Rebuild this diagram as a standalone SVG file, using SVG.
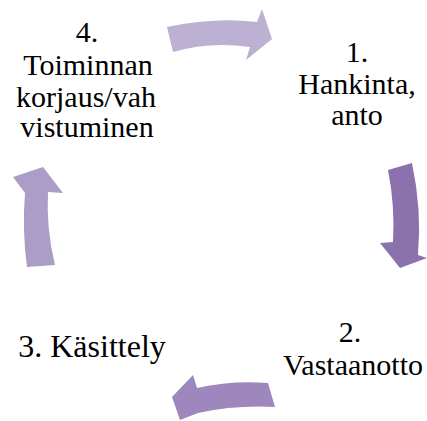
<svg xmlns="http://www.w3.org/2000/svg" width="427" height="421" viewBox="0 0 427 421">
<style>
text{font-family:"Liberation Serif","Times New Roman",serif;font-size:30px;fill:#000;text-anchor:middle}
.big{font-size:32px}
</style>
<rect width="427" height="421" fill="#fff"/>
<g id="connectors">
<path d="M167,27 Q215,17 257,22 L262,9 L272,39 L246,60 L250,47 Q210,41 173,52 Z" fill="#bcb0d3"/>
<path d="M388,170 L412,163 Q422,210 418,255 L427,258 L400,268 L380,243 L393,242 Q395,205 388,170 Z" fill="#8c72ad"/>
<path d="M268,383 L275,407 Q235,405 198,413 L180,420 L172,397 L193,375 L197,388 Q232,380 268,383 Z" fill="#9d87bc"/>
<path d="M27,267 L55,265 Q46,228 48,192 L63,193 L43,167 L13,177 L25,193 Q22,230 27,267 Z" fill="#ac9cc8"/>
</g>
<g id="node4">
<text x="87" y="42">4.</text>
<text x="88" y="75">Toiminnan</text>
<text x="86" y="107">korjaus/vah</text>
<text x="87" y="137">vistuminen</text>
</g>
<g id="node1">
<text x="357" y="62">1.</text>
<text x="357" y="94">Hankinta,</text>
<text x="357" y="125">anto</text>
</g>
<g id="node2">
<text x="350" y="342">2.</text>
<text x="353" y="375">Vastaanotto</text>
</g>
<g id="node3">
<text class="big" x="92" y="357">3. Käsittely</text>
</g>
</svg>
